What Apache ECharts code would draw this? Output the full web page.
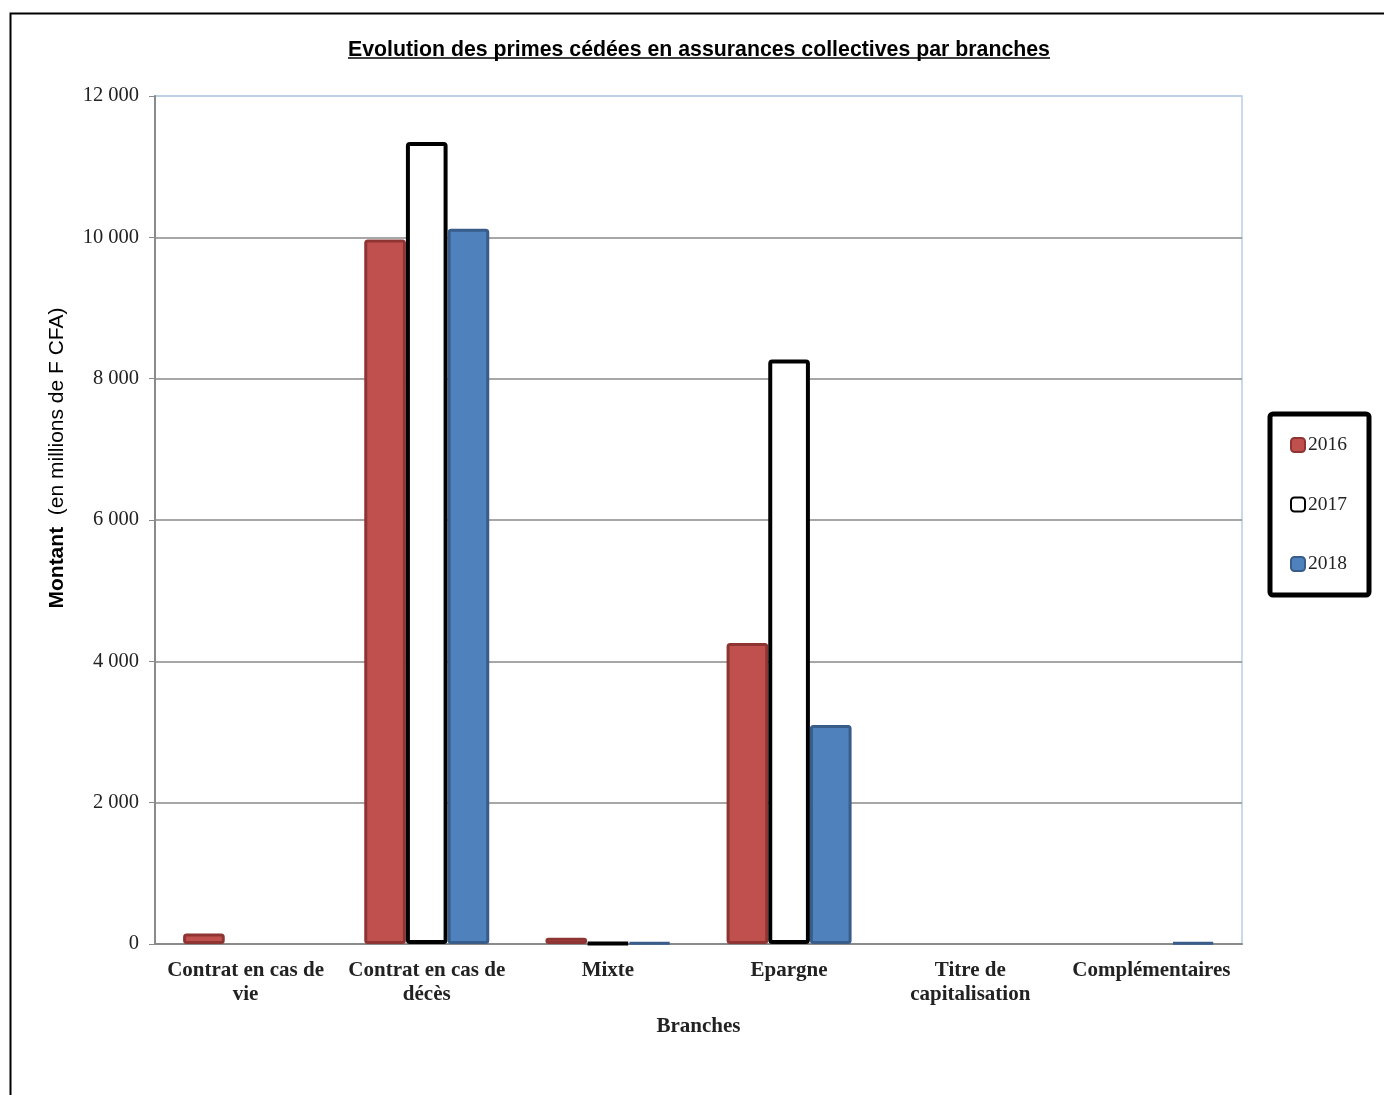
<!DOCTYPE html>
<html>
<head>
<meta charset="utf-8">
<script src="https://cdn.jsdelivr.net/npm/echarts@6/dist/echarts.min.js"></script>
<style>
html,body{margin:0;padding:0;background:#fff;}
#chart{width:1384px;height:1095px;}
</style>
</head>
<body>
<div id="chart"></div>
<script>
const categories = ['Contrat en cas de\nvie', 'Contrat en cas de\ndécès', 'Mixte', 'Epargne', 'Titre de\ncapitalisation', 'Complémentaires'];
const years = ['2016', '2017', '2018'];
const values2016 = [150, 9970, 90, 4260, null, null];
const values2017 = [null, 11350, 15, 8270, null, null];
const values2018 = [null, 10120, 20, 3100, null, 20];
const yTicks = [0, 2000, 4000, 6000, 8000, 10000, 12000];

const chart = echarts.init(document.getElementById('chart'), null, {renderer: 'canvas'});
const serif = '"Liberation Serif", "DejaVu Serif", serif';
const sans = '"Liberation Sans", Arial, sans-serif';

function fmt(v) {
  return String(v).replace(/\B(?=(\d{3})+(?!\d))/g, ' ');
}

const option = {
  backgroundColor: '#ffffff',
  animation: false,
  title: {
    text: 'Evolution des primes cédées en assurances collectives par branches',
    left: 343,
    top: 35,
    textStyle: {fontFamily: sans, fontWeight: 'bold', fontSize: 21.3, color: '#000'}
  },
  graphic: [
    {type: 'rect', left: 8, top: 11, shape: {x: 0, y: 0, width: 1420, height: 1120},
     style: {fill: 'none', stroke: '#000', lineWidth: 2}, silent: true},
    {type: 'line', shape: {x1: 348, y1: 58, x2: 1050, y2: 58},
     style: {stroke: '#000', lineWidth: 1.5}, silent: true}
  ],
  legend: {
    data: years,
    orient: 'vertical',
    left: 1270,
    top: 414,
    padding: [21, 22, 21, 20],
    itemGap: 39.5,
    itemWidth: 14,
    itemHeight: 14,
    borderColor: '#000',
    borderWidth: 5,
    borderRadius: 3,
    backgroundColor: '#fff',
    textStyle: {fontFamily: serif, fontSize: 19.5, color: '#222', padding: [0, 0, 0, -2]}
  },
  grid: {
    left: 155, right: 142, top: 96, bottom: 151,
    show: true, borderColor: '#B9CDE5', borderWidth: 1.5, backgroundColor: 'transparent'
  },
  xAxis: {
    type: 'category',
    data: categories,
    name: 'Branches',
    nameLocation: 'middle',
    nameGap: 72,
    nameTextStyle: {fontFamily: serif, fontWeight: 'bold', fontSize: 21, color: '#222'},
    axisLine: {lineStyle: {color: '#8a8a8a', width: 2}},
    axisTick: {show: false},
    axisLabel: {fontFamily: serif, fontWeight: 'bold', fontSize: 21, color: '#222', lineHeight: 24, margin: 15, interval: 0}
  },
  yAxis: {
    type: 'value',
    min: 0,
    max: 12000,
    interval: 2000,
    name: '{b|Montant}{n|  (en millions de F CFA)}',
    nameLocation: 'middle',
    nameRotate: 90,
    nameGap: 87,
    nameTextStyle: {
      padding: [0, 0, 0, 124],
      rich: {
        b: {fontFamily: sans, fontWeight: 'bold', fontSize: 21, color: '#000'},
        n: {fontFamily: sans, fontSize: 21, color: '#000'}
      }
    },
    axisLine: {show: true, lineStyle: {color: '#8a8a8a', width: 2}},
    axisTick: {show: true, length: 6, lineStyle: {color: '#8a8a8a', width: 1}},
    axisLabel: {fontFamily: serif, fontSize: 20.5, color: '#222', margin: 16, formatter: fmt},
    splitLine: {show: true, lineStyle: {color: ['#8a8a8a', '#8a8a8a', '#8a8a8a', '#8a8a8a', '#8a8a8a', '#8a8a8a', '#B9CDE5'], width: 1.5}}
  },
  series: [
    {name: years[0], type: 'bar', data: values2016, barGap: '0%', barCategoryGap: '31%',
     itemStyle: {color: '#C0504D', borderColor: '#8E3533', borderWidth: 3, borderRadius: 2}},
    {name: years[1], type: 'bar', data: values2017, barGap: '0%', barCategoryGap: '31%',
     itemStyle: {color: '#FFFFFF', borderColor: '#000000', borderWidth: 4, borderRadius: 2}},
    {name: years[2], type: 'bar', data: values2018, barGap: '0%', barCategoryGap: '31%',
     itemStyle: {color: '#4F81BD', borderColor: '#385D8A', borderWidth: 3, borderRadius: 2}}
  ]
};
chart.setOption(option);
</script>
</body>
</html>
